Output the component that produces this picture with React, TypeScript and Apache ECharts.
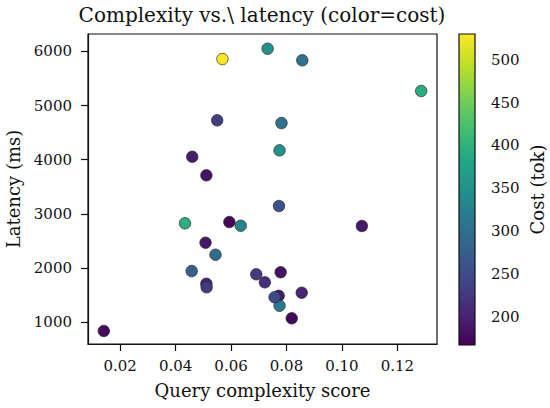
import React, { useEffect, useRef } from "react";
import * as echarts from "echarts";

const TITLE = "Complexity vs.\\ latency (color=cost)";
const X_NAME = "Query complexity score";
const Y_NAME = "Latency (ms)";
const C_NAME = "Cost (tok)";

const complexity = [
  0.0141, 0.0569, 0.0732, 0.0857, 0.1286, 0.055, 0.0782, 0.0775, 0.046, 0.0511,
  0.0434, 0.0594, 0.0635, 0.0773, 0.1072, 0.0508, 0.0544, 0.0458, 0.0511, 0.0512,
  0.0691, 0.0722, 0.0779, 0.0772, 0.0775, 0.0757, 0.0855, 0.0819,
];
const latency = [
  840, 5858, 6048, 5834, 5268, 4727, 4677, 4173, 4055, 3712,
  2827, 2851, 2782, 3146, 2777, 2469, 2247, 1946, 1712, 1646,
  1886, 1738, 1924, 1489, 1306, 1463, 1546, 1074,
];
const cost = [
  178, 530, 350, 305, 392, 232, 305, 350, 196, 185,
  395, 170, 330, 258, 190, 190, 294, 276, 200, 232,
  228, 215, 185, 195, 312, 250, 205, 175,
];

const xTicks = [0.02, 0.04, 0.06, 0.08, 0.1, 0.12];
const yTicks = [1000, 2000, 3000, 4000, 5000, 6000];
const cTicks = [200, 250, 300, 350, 400, 450, 500];

const X_MIN = 0.0084;
const X_MAX = 0.1343;
const Y_MIN = 600;
const Y_MAX = 6320;
const C_MIN = 167;
const C_MAX = 530;

const viridis = [
  "#440154", "#482475", "#414487", "#355f8d", "#2a788e", "#21918c",
  "#22a884", "#44bf70", "#7ad151", "#bddf26", "#fde725",
];

const FONT = "DejaVu Serif";

export default function App() {
  const ref = useRef<HTMLDivElement>(null);
  useEffect(() => {
    document.body.style.margin = "0";
    if (!ref.current) return;
    const chart = echarts.init(ref.current, null, { renderer: "svg" });
    const data = complexity.map((x, i) => [x, latency[i], cost[i]]);
    const labelStyle = { fontFamily: FONT, fontSize: 15, color: "#111" };
    const nameStyle = { fontFamily: FONT, fontSize: 18, color: "#111" };
    const gradStops = viridis
      .map((c, i) => ({ offset: 1 - i / (viridis.length - 1), color: c }))
      .reverse();
    chart.setOption({
      animation: false,
      backgroundColor: "#fff",
      title: {
        text: TITLE,
        left: 262,
        top: 5,
        padding: 0,
        textAlign: "center",
        textStyle: { fontFamily: FONT, fontSize: 20, fontWeight: "normal", color: "#111" },
      },
      grid: [
        { left: 88, right: 113, top: 34, bottom: 64, show: true, borderColor: "#111", borderWidth: 1.2, backgroundColor: "transparent", outerBoundsMode: "none", containLabel: false },
        { left: 459, width: 16, top: 34, bottom: 63, show: false, outerBoundsMode: "none", containLabel: false },
      ],
      xAxis: [
        {
          type: "value",
          gridIndex: 0,
          min: X_MIN,
          max: X_MAX,
          name: X_NAME,
          nameLocation: "middle",
          nameGap: 37,
          nameTextStyle: nameStyle,
          axisLine: { show: true, lineStyle: { color: "#111", width: 1.2 } },
          axisTick: { show: true, length: 7, customValues: xTicks, lineStyle: { color: "#111", width: 1.2 } },
          axisLabel: { ...labelStyle, margin: 14, customValues: xTicks, formatter: (v: number) => v.toFixed(2) },
          splitLine: { show: false },
        },
        {
          type: "value",
          gridIndex: 1,
          min: 0,
          max: 1,
          show: false,
        },
      ],
      yAxis: [
        {
          type: "value",
          gridIndex: 0,
          min: Y_MIN,
          max: Y_MAX,
          name: Y_NAME,
          nameLocation: "middle",
          nameGap: 66,
          nameTextStyle: nameStyle,
          axisLine: { show: true, lineStyle: { color: "#111", width: 1.2 } },
          axisTick: { show: true, length: 7, customValues: yTicks, lineStyle: { color: "#111", width: 1.2 } },
          axisLabel: { ...labelStyle, margin: 16, customValues: yTicks, formatter: (v: number) => String(v) },
          splitLine: { show: false },
        },
        {
          type: "value",
          gridIndex: 1,
          position: "right",
          min: C_MIN,
          max: C_MAX,
          name: C_NAME,
          nameLocation: "middle",
          nameRotate: 90,
          nameGap: 53,
          nameTextStyle: nameStyle,
          axisLine: { show: false },
          axisTick: { show: true, length: 7, customValues: cTicks, lineStyle: { color: "#111", width: 1.2 } },
          axisLabel: { ...labelStyle, margin: 16, customValues: cTicks, formatter: (v: number) => String(v) },
          splitLine: { show: false },
        },
      ],
      visualMap: {
        type: "continuous",
        show: false,
        dimension: 2,
        seriesIndex: 0,
        min: C_MIN,
        max: C_MAX,
        inRange: { color: viridis },
      },
      series: [
        {
          type: "scatter",
          xAxisIndex: 0,
          yAxisIndex: 0,
          data,
          symbolSize: 11.5,
          itemStyle: { borderColor: "#2a2a2a", borderWidth: 0.7, opacity: 1 },
          emphasis: { disabled: true },
        },
        {
          type: "custom",
          xAxisIndex: 1,
          yAxisIndex: 1,
          data: [[0, C_MIN, 1, C_MAX]],
          renderItem: (params: any, api: any) => {
            const p1 = api.coord([api.value(0), api.value(1)]);
            const p2 = api.coord([api.value(2), api.value(3)]);
            return {
              type: "rect",
              shape: { x: p1[0], y: p2[1], width: p2[0] - p1[0], height: p1[1] - p2[1] },
              style: {
                fill: new echarts.graphic.LinearGradient(0, 0, 0, 1, gradStops),
                stroke: "#111",
                lineWidth: 1.2,
              },
            };
          },
          silent: true,
        },
      ],
    });
    return () => chart.dispose();
  }, []);
  return <div ref={ref} style={{ width: 550, height: 408 }} />;
}
